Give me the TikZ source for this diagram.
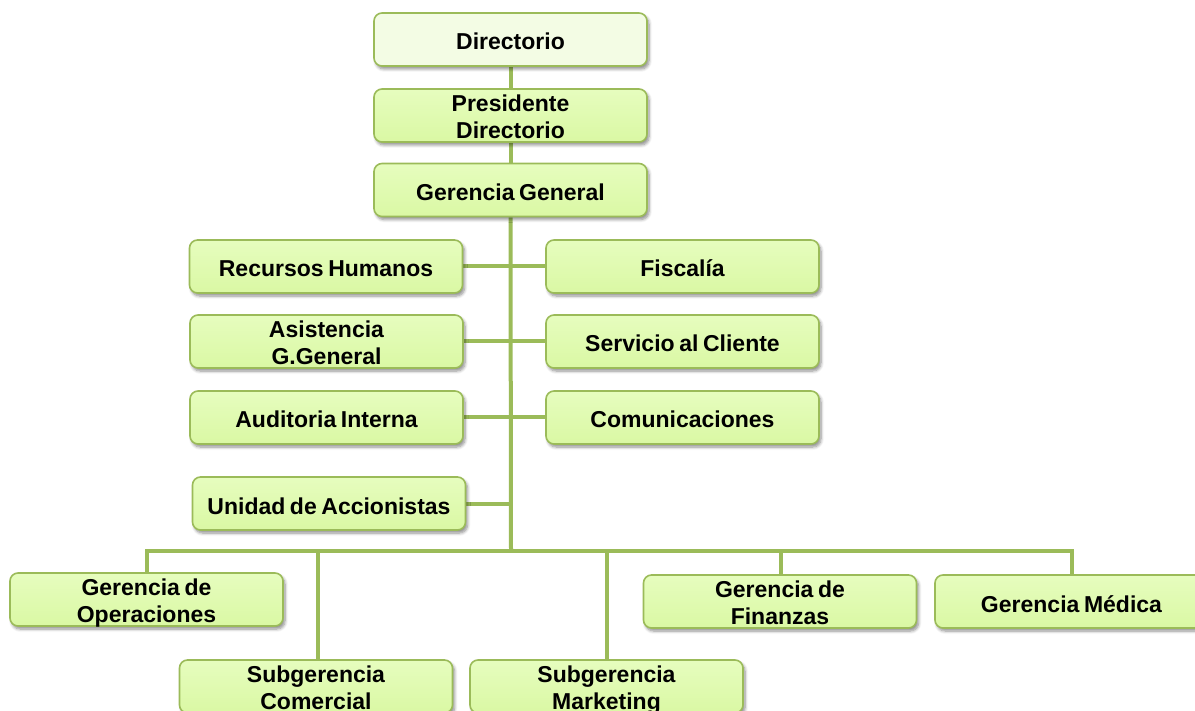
\documentclass[tikz,border=0pt]{standalone}
\usepackage{fontspec}
\setmainfont{Liberation Sans}
\usetikzlibrary{shadows.blur,backgrounds}

\definecolor{linegreen}{RGB}{155,187,89}
\definecolor{boxfill}{RGB}{218,248,164}
\definecolor{boxfilltop}{RGB}{230,253,190}
\definecolor{topfill}{RGB}{243,252,228}

\tikzset{
  unitbox/.style={
    draw=linegreen, line width=1.6pt, rounded corners=8pt,
    top color=boxfilltop, bottom color=boxfill,
    minimum width=273pt, minimum height=53pt,
    text width=262pt, align=center, inner sep=0pt,
    text height=21pt, text depth=0pt,
    font=\fontsize{23}{27}\selectfont\bfseries,
    execute at begin node={\spaceskip=0.2em\relax},
    blur shadow={shadow xshift=2pt, shadow yshift=-3pt,
      shadow blur radius=3pt, shadow blur steps=6, shadow opacity=45}
  },
  twolines/.style={text height=18.5pt, text depth=27pt},
  headbox/.style={unitbox, top color=topfill, bottom color=topfill},
  link/.style={draw=linegreen, line width=4pt}
}

\begin{document}
\begin{tikzpicture}[x=1pt, y=-1pt]
\useasboundingbox (0,0) rectangle (1195,711);

% governing bodies
\node[headbox] (dir)  at (510.5, 39.5)  {Directorio};
\node[unitbox, twolines] (pres) at (510.5, 115.5) {Presidente\\Directorio};
\node[unitbox] (gg)   at (510.5, 190)   {Gerencia General};

% staff units around the main line
\node[unitbox] (rh)   at (326, 266.5)   {Recursos Humanos};
\node[unitbox] (fis)  at (682.5, 266.5) {Fiscalía};
\node[unitbox, twolines] (asi)  at (326.5, 341.5) {Asistencia\\G.General};
\node[unitbox] (sc)   at (682.5, 341.5) {Servicio al Cliente};
\node[unitbox] (aud)  at (326.5, 417.5) {Auditoria Interna};
\node[unitbox] (com)  at (682.5, 417.5) {Comunicaciones};
\node[unitbox] (uda)  at (329, 503.5)   {Unidad de Accionistas};

% line management
\node[unitbox, twolines] (ops)  at (146.5, 599.5) {Gerencia de\\Operaciones};
\node[unitbox, twolines] (scom) at (316, 686.5)   {Subgerencia\\Comercial};
\node[unitbox, twolines] (smk)  at (606.5, 686.5) {Subgerencia\\Marketing};
\node[unitbox, twolines] (fin)  at (780, 601.5)   {Gerencia de\\Finanzas};
\node[unitbox] (med)  at (1071.5, 601.5){Gerencia Médica};

\coordinate (bus) at (511, 551);

\begin{scope}[on background layer]
  \draw[link] (dir) -- (pres);
  \draw[link] (pres) -- (gg);
  \draw[link] (gg.south) -- (bus);
  \foreach \n in {rh, asi, aud, uda} {
    \draw[link] (\n.east) -- (\n.east -| bus);
  }
  \foreach \n in {fis, sc, com} {
    \draw[link] (\n.west) -- (\n.west -| bus);
  }
  \draw[link] (ops.north -| 147,0) |- (bus);
  \draw[link] (scom.north -| 318,0) |- (bus);
  \draw[link] (smk.north -| 607,0) |- (bus);
  \draw[link] (fin.north -| 781,0) |- (bus);
  \draw[link] (med.north -| 1072,0) |- (bus);
\end{scope}
\end{tikzpicture}
\end{document}
